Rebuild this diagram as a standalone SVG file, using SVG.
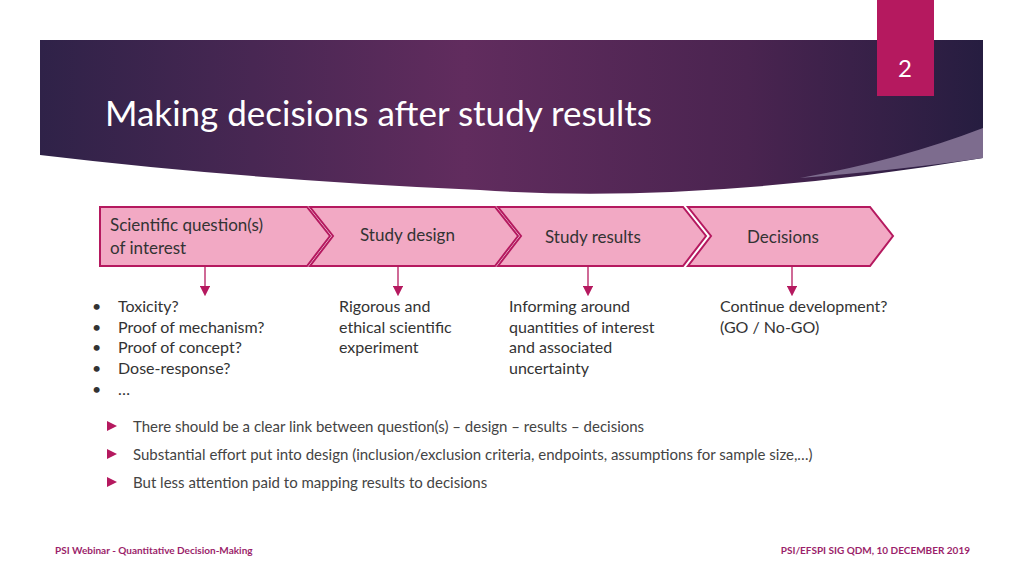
<svg xmlns="http://www.w3.org/2000/svg" width="1024" height="576" viewBox="0 0 1024 576">
<defs>
<linearGradient id="bg" x1="0" y1="0" x2="1" y2="0">
<stop offset="0" stop-color="#2f2248"/>
<stop offset="0.45" stop-color="#612c5e"/>
<stop offset="0.75" stop-color="#4a2450"/>
<stop offset="1" stop-color="#261d40"/>
</linearGradient>
<marker id="ah" markerWidth="8" markerHeight="8" refX="4" refY="4" orient="auto"><path d="M0,0 L8,4 L0,8 z" fill="#b5195f"/></marker>
<style>
.ch{fill:#f2a9c4;stroke:#b5195f;stroke-width:2}
.t{font-family:"Lato","Open Sans",sans-serif;font-size:17px;fill:#333}
.b{font-family:"Lato","Open Sans",sans-serif;font-size:15px;fill:#444}
.f{font-family:"Lato",sans-serif;font-size:10px;font-weight:bold;fill:#9b1f6b}
.c{stroke:#b5195f;stroke-width:1.3;fill:none}
</style>
</defs>
<rect width="1024" height="576" fill="#fff"/>
<path d="M40,40 H983 V158 Q700,205 480,190 Q250,180 40,155 Z" fill="url(#bg)"/>
<path d="M983,128 V158 Q900,170 800,178 Q900,160 983,128 Z" fill="#7d6c8e"/>
<rect x="877" y="0" width="57" height="96" fill="#b5195f"/>
<text x="905" y="77" text-anchor="middle" font-family="Lato,sans-serif" font-size="24" fill="#fff">2</text>
<text x="105" y="126" font-family="Lato,'Open Sans',sans-serif" font-size="35" fill="#fff">Making decisions after study results</text>
<g id="n1"><path class="ch" d="M100,207 H307 L330,236 L307,266 H100 Z"/><text class="t" x="110" y="231">Scientific question(s)</text><text class="t" x="110" y="254">of interest</text></g>
<g id="n2"><path class="ch" d="M310,207 H495 L518,236 L495,266 H310 L333,236 Z"/><text class="t" x="360" y="241">Study design</text></g>
<g id="n3"><path class="ch" d="M498,207 H683 L706,236 L683,266 H498 L521,236 Z"/><text class="t" x="545" y="243">Study results</text></g>
<g id="n4"><path class="ch" d="M688,207 H870 L893,236 L870,266 H688 L711,236 Z"/><text class="t" x="747" y="243">Decisions</text></g>
<g id="connectors">
<line class="c" x1="205" y1="266" x2="205" y2="291" marker-end="url(#ah)"/>
<line class="c" x1="398" y1="266" x2="398" y2="291" marker-end="url(#ah)"/>
<line class="c" x1="588" y1="266" x2="588" y2="291" marker-end="url(#ah)"/>
<line class="c" x1="792" y1="266" x2="792" y2="291" marker-end="url(#ah)"/>
</g>
<g class="t" style="font-size:16px">
<text class="t" style="font-size:16px" x="92" y="312">•</text><text class="t" style="font-size:16px" x="118" y="312">Toxicity?</text>
<text class="t" style="font-size:16px" x="92" y="333">•</text><text class="t" style="font-size:16px" x="118" y="333">Proof of mechanism?</text>
<text class="t" style="font-size:16px" x="92" y="353">•</text><text class="t" style="font-size:16px" x="118" y="353">Proof of concept?</text>
<text class="t" style="font-size:16px" x="92" y="374">•</text><text class="t" style="font-size:16px" x="118" y="374">Dose-response?</text>
<text class="t" style="font-size:16px" x="92" y="395">•</text><text class="t" style="font-size:16px" x="118" y="395">…</text>
<text class="t" style="font-size:16px" x="339" y="312">Rigorous and</text>
<text class="t" style="font-size:16px" x="339" y="333">ethical scientific</text>
<text class="t" style="font-size:16px" x="339" y="353">experiment</text>
<text class="t" style="font-size:16px" x="509" y="312">Informing around</text>
<text class="t" style="font-size:16px" x="509" y="333">quantities of interest</text>
<text class="t" style="font-size:16px" x="509" y="353">and associated</text>
<text class="t" style="font-size:16px" x="509" y="374">uncertainty</text>
<text class="t" style="font-size:16px" x="720" y="312">Continue development?</text>
<text class="t" style="font-size:16px" x="720" y="333">(GO / No-GO)</text>
</g>
<path d="M107,421 L117,426 L107,431 Z" fill="#b5195f"/>
<path d="M107,449 L117,454 L107,459 Z" fill="#b5195f"/>
<path d="M107,477 L117,482 L107,487 Z" fill="#b5195f"/>
<text class="b" x="133" y="432">There should be a clear link between question(s) – design – results – decisions</text>
<text class="b" x="133" y="460">Substantial effort put into design (inclusion/exclusion criteria, endpoints, assumptions for sample size,…)</text>
<text class="b" x="133" y="488">But less attention paid to mapping results to decisions</text>
<text class="f" x="55" y="554">PSI Webinar - Quantitative Decision-Making</text>
<text class="f" x="970" y="554" text-anchor="end">PSI/EFSPI SIG QDM, 10 DECEMBER 2019</text>
</svg>
